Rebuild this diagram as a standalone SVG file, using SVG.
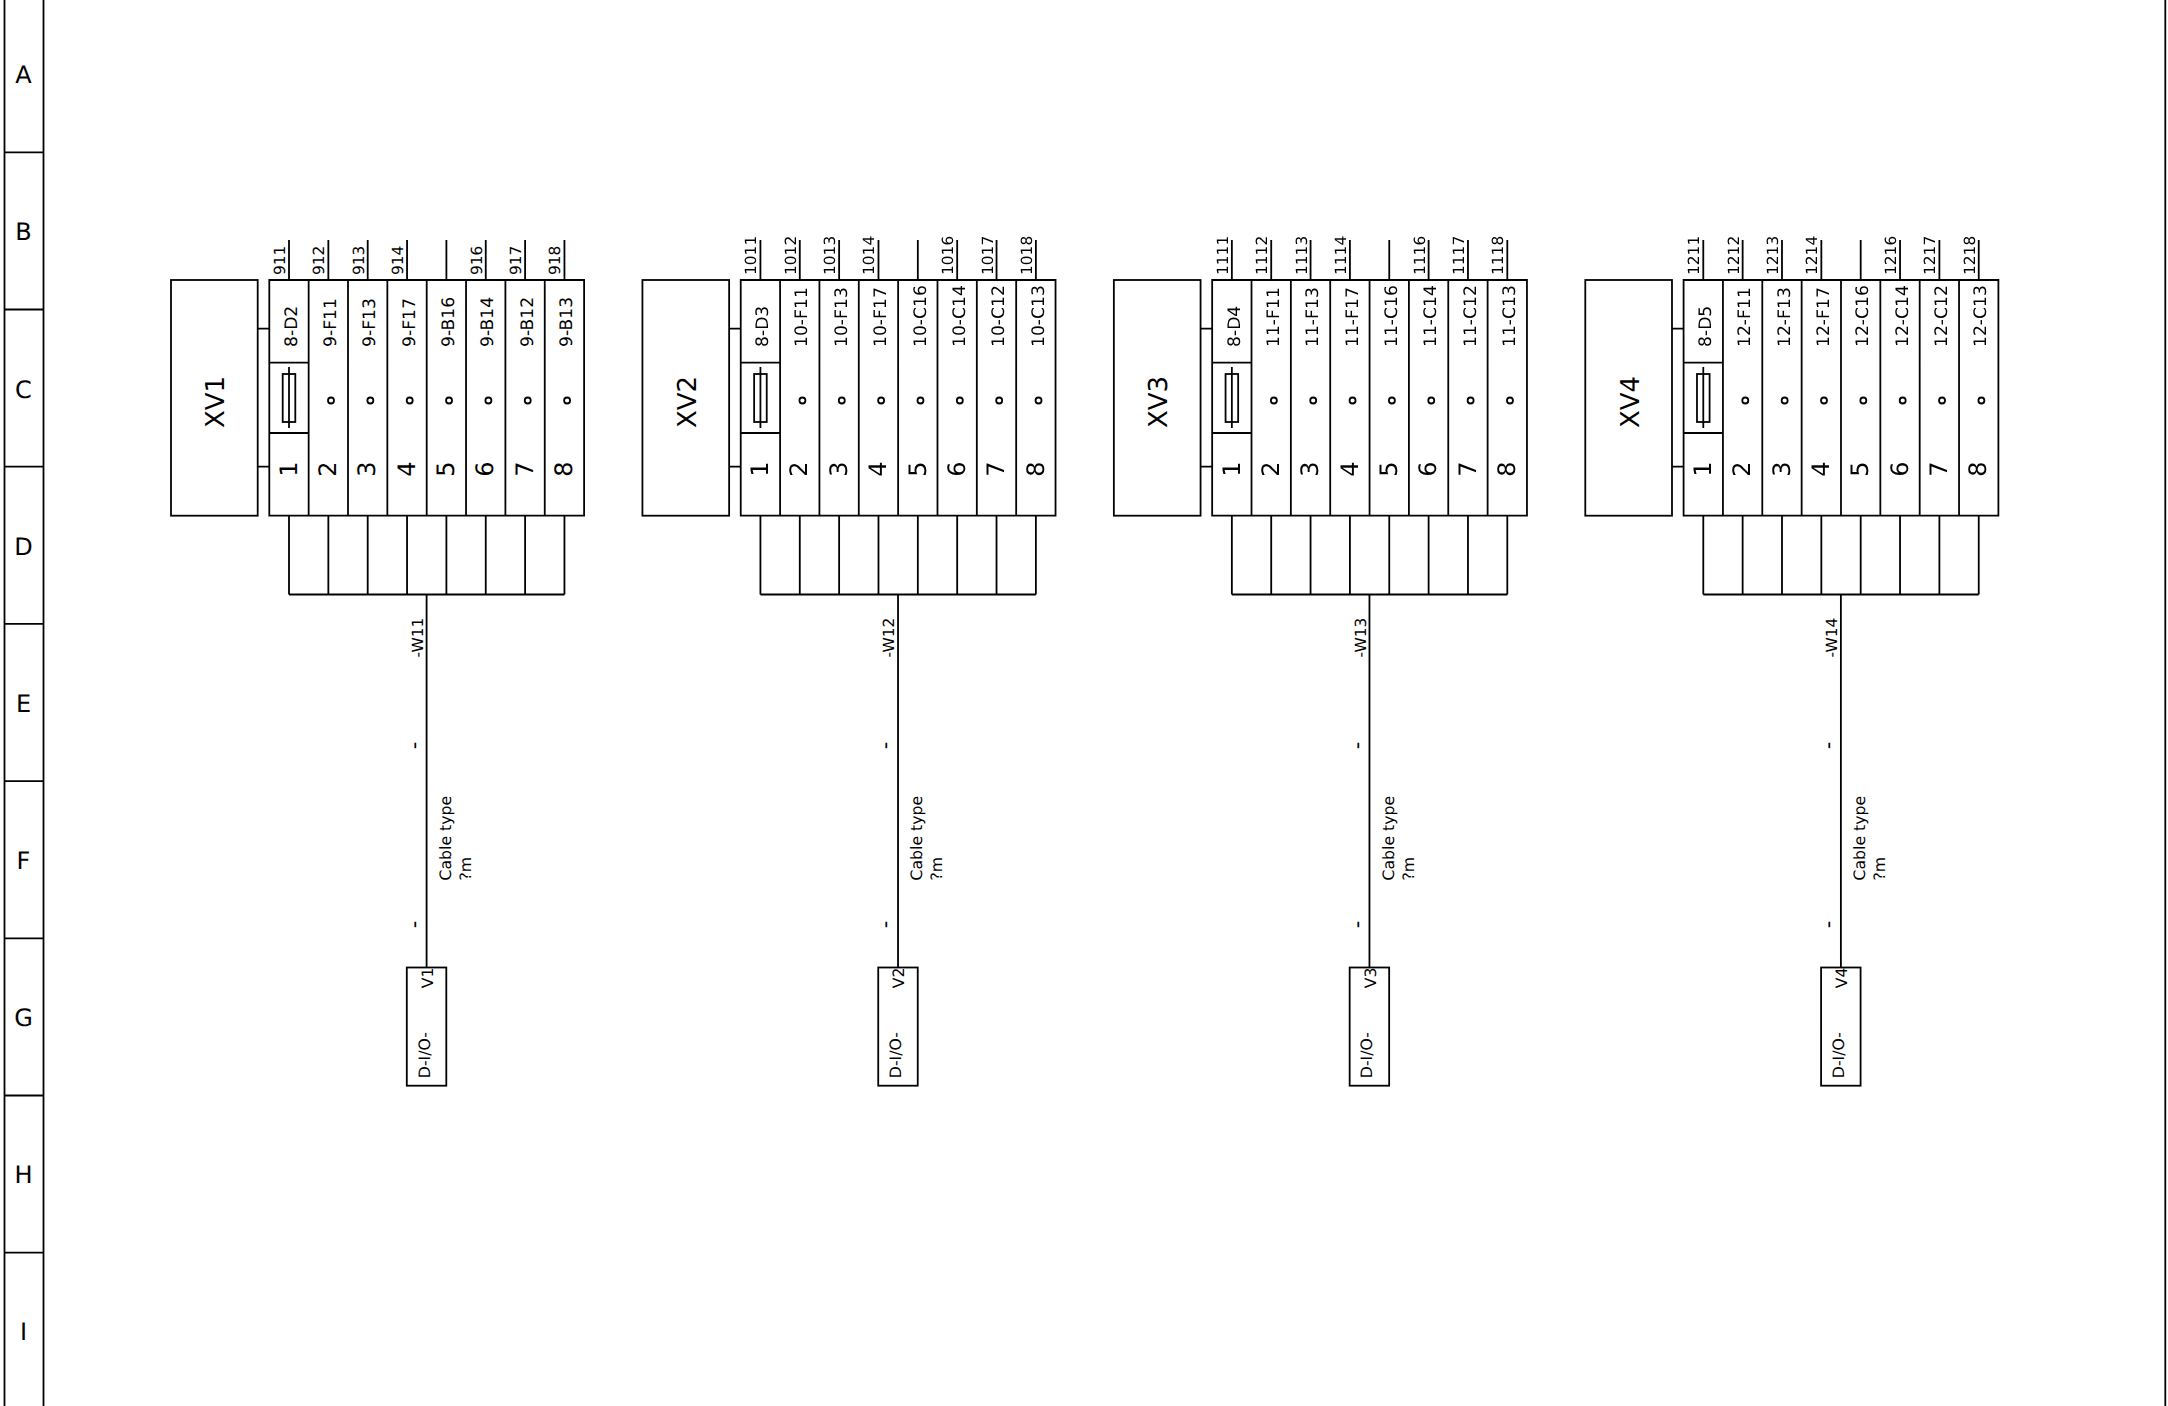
<svg xmlns="http://www.w3.org/2000/svg" width="2168" height="1406" viewBox="0 0 2168 1406">
<style>
text{font-family:"DejaVu Sans",sans-serif;fill:#000;text-rendering:geometricPrecision}
.ln{fill:none;stroke:#000;stroke-width:1.8}
.dot{fill:#fff;stroke:#000;stroke-width:1.8}
.zone{font-size:24px;text-anchor:middle}
.big{font-size:26px;text-anchor:middle}
.num{font-size:24px;text-anchor:middle}
.cell{font-size:17.2px}
.wire{font-size:15.4px}
.tick{font-size:21px}
.cab{font-size:15.7px}
.aa{opacity:.99}
</style>
<defs>
<g id="strip">
<path class="ln" d="M269.3 280H584.1V515.7H269.3ZM308.65 280V515.7M348 280V515.7M387.35 280V515.7M426.7 280V515.7M466.05 280V515.7M505.4 280V515.7M544.75 280V515.7M269.3 362.7H308.65M269.3 433H308.65"/>
<rect class="ln" x="282.7" y="374" width="12.6" height="48"/>
<path class="ln" d="M289 367V428"/>
<circle class="dot" cx="331" cy="400.5" r="3"/><circle class="dot" cx="370.35" cy="400.5" r="3"/><circle class="dot" cx="409.7" cy="400.5" r="3"/><circle class="dot" cx="449.05" cy="400.5" r="3"/><circle class="dot" cx="488.4" cy="400.5" r="3"/><circle class="dot" cx="527.75" cy="400.5" r="3"/><circle class="dot" cx="567.1" cy="400.5" r="3"/>
<text class="num" transform="translate(296.7 469) rotate(-90)">1</text>
<text class="num" transform="translate(336.05 469) rotate(-90)">2</text>
<text class="num" transform="translate(375.4 469) rotate(-90)">3</text>
<text class="num" transform="translate(414.75 469) rotate(-90)">4</text>
<text class="num" transform="translate(454.1 469) rotate(-90)">5</text>
<text class="num" transform="translate(493.45 469) rotate(-90)">6</text>
<text class="num" transform="translate(532.8 469) rotate(-90)">7</text>
<text class="num" transform="translate(572.15 469) rotate(-90)">8</text>
</g>
<g id="wiring">
<path class="ln" d="M289 240V280M328.35 240V280M367.7 240V280M407.05 240V280M446.4 240V280M485.75 240V280M525.1 240V280M564.45 240V280"/>
<path class="ln" d="M289 515.7V594.5M328.35 515.7V594.5M367.7 515.7V594.5M407.05 515.7V594.5M446.4 515.7V594.5M485.75 515.7V594.5M525.1 515.7V594.5M564.45 515.7V594.5M289 594.5H564.45"/>
<path class="ln" d="M426.6 594.5V673M426.6 673V958M426.6 958V968M426.6 753V890M426.6 753V770"/>
<path class="ln" d="M257.7 328.7H269.3M257.7 466.7H269.3"/>
</g>
</defs>
<g id="frame" class="aa">
<path class="ln" d="M4.5 0V1406M43.5 0V1406M4.5 152.3H43.5M4.5 309.5H43.5M4.5 466.7H43.5M4.5 623.9H43.5M4.5 781.1H43.5M4.5 938.3H43.5M4.5 1095.5H43.5M4.5 1252.7H43.5M2165.3 0V1406"/>
<text class="zone" x="23.5" y="83.3">A</text>
<text class="zone" x="23.5" y="240.4">B</text>
<text class="zone" x="23.5" y="397.5">C</text>
<text class="zone" x="23.5" y="554.6">D</text>
<text class="zone" x="23.5" y="711.7">E</text>
<text class="zone" x="23.5" y="868.8">F</text>
<text class="zone" x="23.5" y="1025.9">G</text>
<text class="zone" x="23.5" y="1183">H</text>
<text class="zone" x="23.5" y="1340.1">I</text>
</g>
<g id="connectors">
<use href="#wiring"/>
<use href="#wiring" transform="translate(471.43 0)"/>
<use href="#wiring" transform="translate(942.86 0)"/>
<use href="#wiring" transform="translate(1414.29 0)"/>
</g>
<g id="XV1" class="aa">
<rect class="ln" x="171" y="280" width="86.7" height="235.7"/>
<text class="big" transform="translate(224.3 402) rotate(-90)">XV1</text>
</g>
<g id="X1" class="aa">
<use href="#strip"/>
<g class="cell">
<text transform="translate(296.7 347) rotate(-90)">8-D2</text>
<text transform="translate(336.05 347) rotate(-90)">9-F11</text>
<text transform="translate(375.4 347) rotate(-90)">9-F13</text>
<text transform="translate(414.75 347) rotate(-90)">9-F17</text>
<text transform="translate(454.1 347) rotate(-90)">9-B16</text>
<text transform="translate(493.45 347) rotate(-90)">9-B14</text>
<text transform="translate(532.8 347) rotate(-90)">9-B12</text>
<text transform="translate(572.15 347) rotate(-90)">9-B13</text>
</g>
<g class="wire">
<text transform="translate(285 275) rotate(-90)">911</text>
<text transform="translate(324.35 275) rotate(-90)">912</text>
<text transform="translate(363.7 275) rotate(-90)">913</text>
<text transform="translate(403.05 275) rotate(-90)">914</text>
<text transform="translate(481.75 275) rotate(-90)">916</text>
<text transform="translate(521.1 275) rotate(-90)">917</text>
<text transform="translate(560.45 275) rotate(-90)">918</text>
</g>
</g>
<g id="W11" class="aa">
<text class="wire" transform="translate(422.7 657.5) rotate(-90)">-W11</text>
<text class="tick" transform="translate(420.7 749.3) rotate(-90)">-</text>
<text class="tick" transform="translate(420.7 928.3) rotate(-90)">-</text>
<text class="cab" transform="translate(450.7 880.5) rotate(-90)">Cable type</text>
<text class="cab" transform="translate(471 880.5) rotate(-90)">?m</text>
</g>
<g id="V1" class="aa">
<rect class="ln" x="406.8" y="967.5" width="39.5" height="118.2"/>
<text class="cab" transform="translate(432.7 988.3) rotate(-90)">V1</text>
<text class="cab" transform="translate(429.5 1078.2) rotate(-90)">D-I/O-</text>
</g>
<g id="XV2" class="aa" transform="translate(471.43 0)">
<rect class="ln" x="171" y="280" width="86.7" height="235.7"/>
<text class="big" transform="translate(224.3 402) rotate(-90)">XV2</text>
</g>
<g id="X2" class="aa" transform="translate(471.43 0)">
<use href="#strip"/>
<g class="cell">
<text transform="translate(296.7 347) rotate(-90)">8-D3</text>
<text transform="translate(336.05 347) rotate(-90)">10-F11</text>
<text transform="translate(375.4 347) rotate(-90)">10-F13</text>
<text transform="translate(414.75 347) rotate(-90)">10-F17</text>
<text transform="translate(454.1 347) rotate(-90)">10-C16</text>
<text transform="translate(493.45 347) rotate(-90)">10-C14</text>
<text transform="translate(532.8 347) rotate(-90)">10-C12</text>
<text transform="translate(572.15 347) rotate(-90)">10-C13</text>
</g>
<g class="wire">
<text transform="translate(285 275) rotate(-90)">1011</text>
<text transform="translate(324.35 275) rotate(-90)">1012</text>
<text transform="translate(363.7 275) rotate(-90)">1013</text>
<text transform="translate(403.05 275) rotate(-90)">1014</text>
<text transform="translate(481.75 275) rotate(-90)">1016</text>
<text transform="translate(521.1 275) rotate(-90)">1017</text>
<text transform="translate(560.45 275) rotate(-90)">1018</text>
</g>
</g>
<g id="W12" class="aa" transform="translate(471.43 0)">
<text class="wire" transform="translate(422.7 657.5) rotate(-90)">-W12</text>
<text class="tick" transform="translate(420.7 749.3) rotate(-90)">-</text>
<text class="tick" transform="translate(420.7 928.3) rotate(-90)">-</text>
<text class="cab" transform="translate(450.7 880.5) rotate(-90)">Cable type</text>
<text class="cab" transform="translate(471 880.5) rotate(-90)">?m</text>
</g>
<g id="V2" class="aa" transform="translate(471.43 0)">
<rect class="ln" x="406.8" y="967.5" width="39.5" height="118.2"/>
<text class="cab" transform="translate(432.7 988.3) rotate(-90)">V2</text>
<text class="cab" transform="translate(429.5 1078.2) rotate(-90)">D-I/O-</text>
</g>
<g id="XV3" class="aa" transform="translate(942.86 0)">
<rect class="ln" x="171" y="280" width="86.7" height="235.7"/>
<text class="big" transform="translate(224.3 402) rotate(-90)">XV3</text>
</g>
<g id="X3" class="aa" transform="translate(942.86 0)">
<use href="#strip"/>
<g class="cell">
<text transform="translate(296.7 347) rotate(-90)">8-D4</text>
<text transform="translate(336.05 347) rotate(-90)">11-F11</text>
<text transform="translate(375.4 347) rotate(-90)">11-F13</text>
<text transform="translate(414.75 347) rotate(-90)">11-F17</text>
<text transform="translate(454.1 347) rotate(-90)">11-C16</text>
<text transform="translate(493.45 347) rotate(-90)">11-C14</text>
<text transform="translate(532.8 347) rotate(-90)">11-C12</text>
<text transform="translate(572.15 347) rotate(-90)">11-C13</text>
</g>
<g class="wire">
<text transform="translate(285 275) rotate(-90)">1111</text>
<text transform="translate(324.35 275) rotate(-90)">1112</text>
<text transform="translate(363.7 275) rotate(-90)">1113</text>
<text transform="translate(403.05 275) rotate(-90)">1114</text>
<text transform="translate(481.75 275) rotate(-90)">1116</text>
<text transform="translate(521.1 275) rotate(-90)">1117</text>
<text transform="translate(560.45 275) rotate(-90)">1118</text>
</g>
</g>
<g id="W13" class="aa" transform="translate(942.86 0)">
<text class="wire" transform="translate(422.7 657.5) rotate(-90)">-W13</text>
<text class="tick" transform="translate(420.7 749.3) rotate(-90)">-</text>
<text class="tick" transform="translate(420.7 928.3) rotate(-90)">-</text>
<text class="cab" transform="translate(450.7 880.5) rotate(-90)">Cable type</text>
<text class="cab" transform="translate(471 880.5) rotate(-90)">?m</text>
</g>
<g id="V3" class="aa" transform="translate(942.86 0)">
<rect class="ln" x="406.8" y="967.5" width="39.5" height="118.2"/>
<text class="cab" transform="translate(432.7 988.3) rotate(-90)">V3</text>
<text class="cab" transform="translate(429.5 1078.2) rotate(-90)">D-I/O-</text>
</g>
<g id="XV4" class="aa" transform="translate(1414.29 0)">
<rect class="ln" x="171" y="280" width="86.7" height="235.7"/>
<text class="big" transform="translate(224.3 402) rotate(-90)">XV4</text>
</g>
<g id="X4" class="aa" transform="translate(1414.29 0)">
<use href="#strip"/>
<g class="cell">
<text transform="translate(296.7 347) rotate(-90)">8-D5</text>
<text transform="translate(336.05 347) rotate(-90)">12-F11</text>
<text transform="translate(375.4 347) rotate(-90)">12-F13</text>
<text transform="translate(414.75 347) rotate(-90)">12-F17</text>
<text transform="translate(454.1 347) rotate(-90)">12-C16</text>
<text transform="translate(493.45 347) rotate(-90)">12-C14</text>
<text transform="translate(532.8 347) rotate(-90)">12-C12</text>
<text transform="translate(572.15 347) rotate(-90)">12-C13</text>
</g>
<g class="wire">
<text transform="translate(285 275) rotate(-90)">1211</text>
<text transform="translate(324.35 275) rotate(-90)">1212</text>
<text transform="translate(363.7 275) rotate(-90)">1213</text>
<text transform="translate(403.05 275) rotate(-90)">1214</text>
<text transform="translate(481.75 275) rotate(-90)">1216</text>
<text transform="translate(521.1 275) rotate(-90)">1217</text>
<text transform="translate(560.45 275) rotate(-90)">1218</text>
</g>
</g>
<g id="W14" class="aa" transform="translate(1414.29 0)">
<text class="wire" transform="translate(422.7 657.5) rotate(-90)">-W14</text>
<text class="tick" transform="translate(420.7 749.3) rotate(-90)">-</text>
<text class="tick" transform="translate(420.7 928.3) rotate(-90)">-</text>
<text class="cab" transform="translate(450.7 880.5) rotate(-90)">Cable type</text>
<text class="cab" transform="translate(471 880.5) rotate(-90)">?m</text>
</g>
<g id="V4" class="aa" transform="translate(1414.29 0)">
<rect class="ln" x="406.8" y="967.5" width="39.5" height="118.2"/>
<text class="cab" transform="translate(432.7 988.3) rotate(-90)">V4</text>
<text class="cab" transform="translate(429.5 1078.2) rotate(-90)">D-I/O-</text>
</g>
</svg>
